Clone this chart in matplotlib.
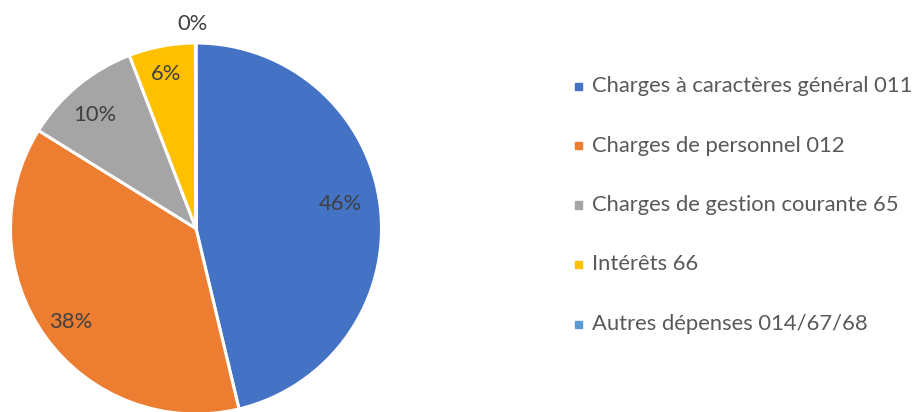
import matplotlib
matplotlib.use("Agg")
import matplotlib.pyplot as plt
import numpy as np
from matplotlib.patches import Rectangle

categories = ["Charges à caractères général 011", "Charges de personnel 012",
              "Charges de gestion courante 65", "Intérêts 66", "Autres dépenses 014/67/68"]
values = [46.3, 37.6, 10.3, 5.8, 0.05]
colors = ["#4472C4", "#ED7D31", "#A5A5A5", "#FFC000", "#5B9BD5"]
label_r = [0.79, 0.84, 0.82, 0.85, 1.10]
label_dang = [3.0, 1.0, 2.0, 0.5, 1.0]

W, H = 917, 412
fig = plt.figure(figsize=(W/100, H/100), dpi=100)
plt.rcParams['font.family'] = ['Lato', 'DejaVu Sans']
cx, cy, R = 196, 228.5, 185.5
ax = fig.add_axes([(cx-R)/W, (H-cy-R)/H, 2*R/W, 2*R/H])
wedges, _ = ax.pie(values, colors=colors, startangle=90, counterclock=False,
                   wedgeprops=dict(edgecolor="white", linewidth=2.2))
ax.set_xlim(-1, 1); ax.set_ylim(-1, 1)
ax.set_aspect('auto')
tot = sum(values)
for w, v, r, da in zip(wedges, values, label_r, label_dang):
    ang = np.deg2rad((w.theta1 + w.theta2) / 2 + da)
    ax.text(r*np.cos(ang), r*np.sin(ang), f"{round(v/tot*100):.0f}%",
            ha="center", va="center", fontsize=15.8, color="#404040", clip_on=False)

y0, dy = 86, 59.5
for i, (lab, c) in enumerate(zip(categories, colors)):
    y = y0 + i*dy
    fig.patches.append(Rectangle(((578-3.5)/W, (H-y-3.5)/H), 7/W, 7/H,
                                 transform=fig.transFigure, color=c))
    fig.text(592/W, (H-y)/H, lab, ha="left", va="center", fontsize=15.8, color="#595959")

fig.savefig("out.png", dpi=100)
